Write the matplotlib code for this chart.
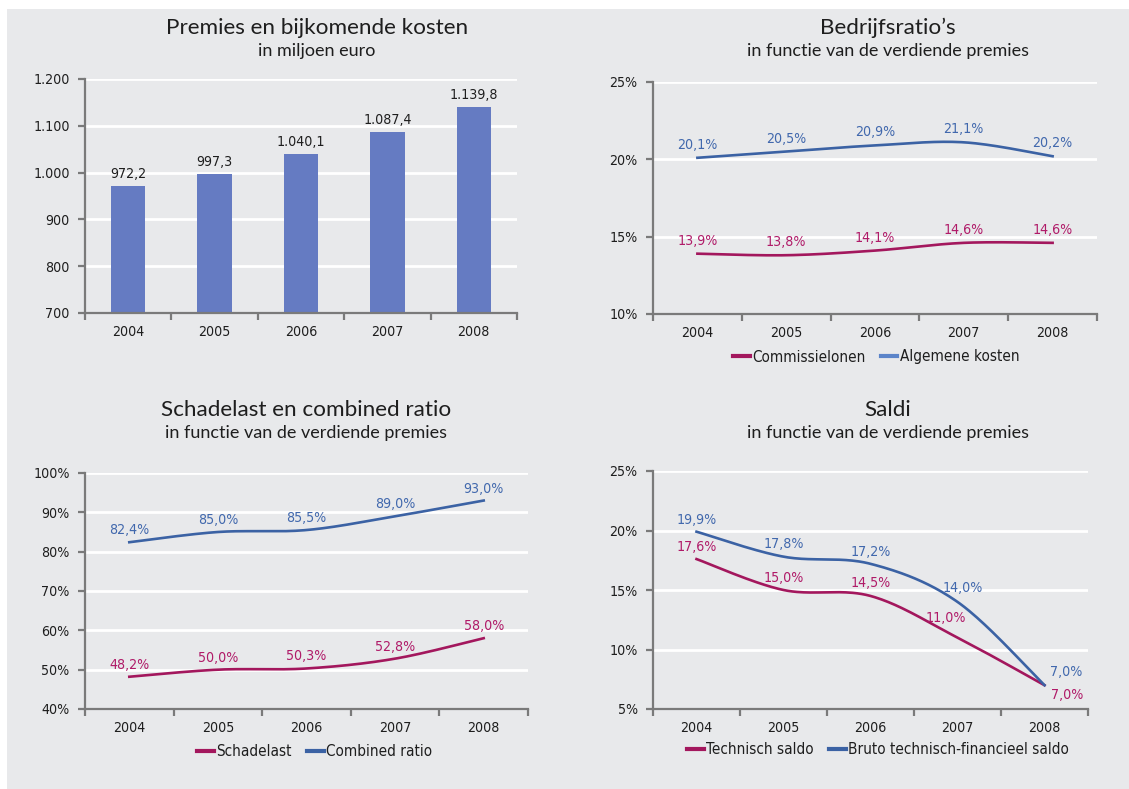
import numpy as np
import matplotlib
matplotlib.use("Agg")
import matplotlib.pyplot as plt
from matplotlib.patches import Rectangle
from matplotlib.lines import Line2D

# ---------------- data ----------------
years = ["2004", "2005", "2006", "2007", "2008"]

premies = [972.2, 997.3, 1040.1, 1087.4, 1139.8]
premies_labels = ["972,2", "997,3", "1.040,1", "1.087,4", "1.139,8"]
premies_yticks = [700, 800, 900, 1000, 1100, 1200]
premies_yticklabels = ["700", "800", "900", "1.000", "1.100", "1.200"]

commissielonen = [13.9, 13.8, 14.1, 14.6, 14.6]
algemene_kosten = [20.1, 20.5, 20.9, 21.1, 20.2]
ratio_yticks = [10, 15, 20, 25]

schadelast = [48.2, 50.0, 50.3, 52.8, 58.0]
combined_ratio = [82.4, 85.0, 85.5, 89.0, 93.0]
schade_yticks = [40, 50, 60, 70, 80, 90, 100]

technisch_saldo = [17.6, 15.0, 14.5, 11.0, 7.0]
bruto_saldo = [19.9, 17.8, 17.2, 14.0, 7.0]
saldi_yticks = [5, 10, 15, 20, 25]

# ---------------- style ----------------
W, H = 1129, 789
BG = "#e8e9eb"
BAR = "#657bc2"
MAG = "#a3175d"
MAG_T = "#b01a68"
BLUE = "#3b62a4"
BLUE_T = "#4168ad"
BLUE_L = "#5b84c9"
SPINE = "#7a7a7a"
TXT = "#1e1e1e"
TITLEFONT = ["Lato", "DejaVu Sans"]
FS_TICK = 10.2
FS_LAB = 10.2

plt.rcParams["font.family"] = ["DejaVu Sans"]

fig = plt.figure(figsize=(W / 100, H / 100), dpi=100)
fig.patch.set_facecolor("white")
fig.patches.append(Rectangle((7 / W, 0), 1, 1 - 9 / H, transform=fig.transFigure,
                             facecolor=BG, edgecolor="none", zorder=-10))


def px_axes(l, r, t, b):
    return fig.add_axes([l / W, 1 - b / H, (r - l) / W, (b - t) / H])


def fmt(v):
    return ("%.1f%%" % v).replace(".", ",")


def style_axes(ax, yticks, yticklabels):
    ax.set_facecolor(BG)
    n = len(years)
    ax.set_xlim(-0.5, n - 0.5)
    ax.set_ylim(yticks[0], yticks[-1])
    for s in ["top", "right"]:
        ax.spines[s].set_visible(False)
    for s in ["left", "bottom"]:
        ax.spines[s].set_color(SPINE)
        ax.spines[s].set_linewidth(1.6)
        ax.spines[s].set_zorder(5)
    ax.set_yticks(yticks)
    ax.set_yticklabels(yticklabels, fontsize=FS_TICK, color=TXT)
    ax.set_xticks(np.arange(-0.5, n, 1.0))
    ax.set_xticklabels([])
    ax.set_xticks(np.arange(n), minor=True)
    ax.set_xticklabels(years, minor=True, fontsize=FS_TICK, color=TXT)
    ax.tick_params(axis="x", which="major", length=5, width=1.6, color=SPINE, direction="out")
    ax.tick_params(axis="x", which="minor", length=0, pad=9)
    ax.tick_params(axis="y", length=5, width=1.6, color=SPINE, direction="out", pad=6)
    for lab in ax.get_yticklabels() + ax.get_xticklabels(minor=True):
        lab.set_fontfamily("DejaVu Sans")
        lab.set_fontstretch("condensed")
    ax.grid(axis="y", color="white", linewidth=2.0, zorder=0)
    ax.set_axisbelow(True)


def smooth(y):
    """Excel-style smoothed curve through points (Bezier, tension 1/6)."""
    x = np.arange(len(y), dtype=float)
    y = np.asarray(y, dtype=float)
    P = np.column_stack([x, y])
    n = len(P)
    out = []
    t = np.linspace(0, 1, 40)[:, None]
    for i in range(n - 1):
        p0 = P[i - 1] if i > 0 else P[i]
        p1 = P[i]
        p2 = P[i + 1]
        p3 = P[i + 2] if i + 2 < n else P[i + 1]
        c1 = p1 + (p2 - p0) / 6.0
        c2 = p2 - (p3 - p1) / 6.0
        seg = ((1 - t) ** 3) * p1 + 3 * ((1 - t) ** 2) * t * c1 + 3 * (1 - t) * t ** 2 * c2 + t ** 3 * p2
        out.append(seg if i == 0 else seg[1:])
    out = np.vstack(out)
    return out[:, 0], out[:, 1]


def titles(cx, y1, y2, t1, t2):
    fig.text(cx / W, 1 - y1 / H, t1, ha="center", va="center", fontsize=16.2,
             color=TXT, family=TITLEFONT)
    fig.text(cx / W, 1 - y2 / H, t2, ha="center", va="center", fontsize=13,
             color=TXT, family=TITLEFONT)


def labels(ax, vals, color, offsets):
    for i, v in enumerate(vals):
        dx, dy = offsets[i]
        ax.annotate(fmt(v), (i, v), xytext=(dx, dy), textcoords="offset pixels",
                    ha="center", va="center", fontsize=FS_LAB, color=color,
                    family="DejaVu Sans", fontstretch="condensed", zorder=6)


def legend(ax, cx, cy, handles):
    leg = fig.legend(handles=handles, loc="center", bbox_to_anchor=(cx / W, 1 - cy / H),
                     ncol=len(handles), frameon=False, handlelength=1.1,
                     handletextpad=0.15, columnspacing=1.0,
                     prop={"family": "DejaVu Sans", "size": 11, "stretch": "condensed"})
    for t in leg.get_texts():
        t.set_color(TXT)


# ---------------- panel 1 ----------------
ax1 = px_axes(85, 517, 79, 313)
style_axes(ax1, premies_yticks, premies_yticklabels)
ax1.bar(np.arange(len(years)), np.array(premies) - 700, bottom=700, width=0.4,
        color=BAR, zorder=3)
for i, v in enumerate(premies):
    ax1.annotate(premies_labels[i], (i, v), xytext=(0, 12), textcoords="offset pixels",
                 ha="center", va="center", fontsize=FS_LAB, color=TXT,
                 family="DejaVu Sans", fontstretch="condensed")
titles(317, 28, 51, "Premies en bijkomende kosten", "in miljoen euro")

# ---------------- panel 2 ----------------
ax2 = px_axes(653, 1097, 82, 314)
style_axes(ax2, ratio_yticks, [f"{v}%" for v in ratio_yticks])
xs, ys = smooth(commissielonen)
ax2.plot(xs, ys, color=MAG, lw=1.9, zorder=4)
xs, ys = smooth(algemene_kosten)
ax2.plot(xs, ys, color=BLUE, lw=1.9, zorder=4)
labels(ax2, algemene_kosten, BLUE_T, [(0, 13)] * 5)
labels(ax2, commissielonen, MAG_T, [(0, 13)] * 5)
titles(888, 28, 51, "Bedrijfsratio\u2019s", "in functie van de verdiende premies")
legend(ax2, 876, 357, [Line2D([], [], color=MAG, lw=3, label="Commissielonen"),
                       Line2D([], [], color=BLUE_L, lw=3, label="Algemene kosten")])

# ---------------- panel 3 ----------------
ax3 = px_axes(85, 528, 473, 709)
style_axes(ax3, schade_yticks, [f"{v}%" for v in schade_yticks])
xs, ys = smooth(schadelast)
ax3.plot(xs, ys, color=MAG, lw=1.9, zorder=4)
xs, ys = smooth(combined_ratio)
ax3.plot(xs, ys, color=BLUE, lw=1.9, zorder=4)
labels(ax3, combined_ratio, BLUE_T, [(0, 12)] * 5)
labels(ax3, schadelast, MAG_T, [(0, 12)] * 5)
titles(306, 410, 433, "Schadelast en combined ratio", "in functie van de verdiende premies")
legend(ax3, 315, 752, [Line2D([], [], color=MAG, lw=3, label="Schadelast"),
                       Line2D([], [], color=BLUE, lw=3, label="Combined ratio")])

# ---------------- panel 4 ----------------
ax4 = px_axes(653, 1088, 471, 709)
style_axes(ax4, saldi_yticks, [f"{v}%" for v in saldi_yticks])
xs, ys = smooth(technisch_saldo)
ax4.plot(xs, ys, color=MAG, lw=1.9, zorder=4)
xs, ys = smooth(bruto_saldo)
ax4.plot(xs, ys, color=BLUE, lw=1.9, zorder=4)
labels(ax4, bruto_saldo, BLUE_T, [(0, 12), (0, 13), (0, 12), (5, 14), (22, 13)])
labels(ax4, technisch_saldo, MAG_T, [(0, 12), (0, 12), (0, 13), (-12, 20), (23, -10)])
titles(888, 410, 433, "Saldi", "in functie van de verdiende premies")
legend(ax4, 878, 750, [Line2D([], [], color=MAG, lw=3, label="Technisch saldo"),
                       Line2D([], [], color=BLUE, lw=3, label="Bruto technisch-financieel saldo")])

fig.savefig("out.png", dpi=100, facecolor=fig.get_facecolor())
